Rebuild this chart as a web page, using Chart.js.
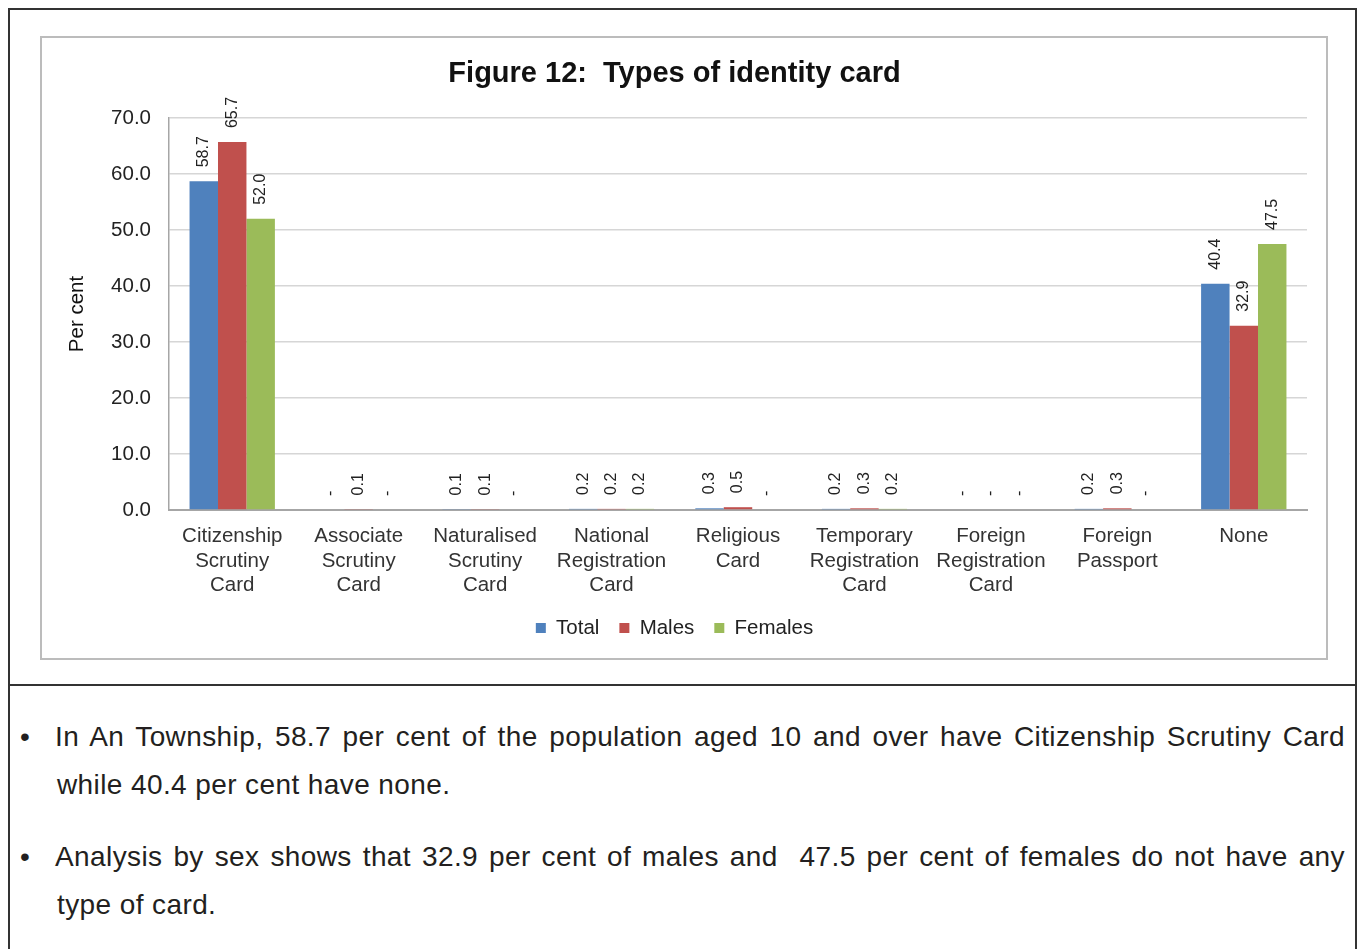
<!DOCTYPE html>
<html>
<head>
<meta charset="utf-8">
<script src="https://cdn.jsdelivr.net/npm/chart.js@4"></script>
<style>
    body { margin: 0; background: #fff; font-family: "Liberation Sans", Arial, sans-serif; }
    #outer { position: absolute; left: 8px; top: 8px; width: 1349px; height: 960px; border: 2px solid #333; box-sizing: border-box; }
    #divider { position: absolute; left: 8px; top: 684px; width: 1349px; height: 2px; background: #333; }
    #chartBox { position: absolute; left: 40px; top: 36px; width: 1288px; height: 624px; border: 2px solid #bcbcbc; box-sizing: border-box; }
    #chartBox canvas { display: block; }
    .bullet { position: absolute; left: 20px; width: 1325px; font-size: 28px; color: #231f20; line-height: 48px; letter-spacing: 0.4px; }
    .bullet .dot { position: absolute; left: 0; top: 0; }
    .bullet .linea { margin-left: 35px; }
    .bullet .llena { text-align: justify; text-align-last: justify; }
    .bullet .resto { margin-left: 37px; }
</style>
</head>
<body>
<div id="outer"></div>
<div id="divider"></div>
<div id="chartBox"><canvas id="diagrama" width="1284" height="620"></canvas></div>
<div class="bullet" style="top: 713px;"><span class="dot">•</span><div class="linea llena">In An Township, 58.7 per cent of the population aged 10 and over have Citizenship Scrutiny Card</div><div class="resto">while 40.4 per cent have none.</div></div>
<div class="bullet" style="top: 833px;"><span class="dot">•</span><div class="linea llena">Analysis by sex shows that 32.9 per cent of males and&nbsp; 47.5 per cent of females do not have any</div><div class="resto">type of card.</div></div>

<script>
const categorias = [
    ['Citizenship', 'Scrutiny', 'Card'],
    ['Associate', 'Scrutiny', 'Card'],
    ['Naturalised', 'Scrutiny', 'Card'],
    ['National', 'Registration', 'Card'],
    ['Religious', 'Card'],
    ['Temporary', 'Registration', 'Card'],
    ['Foreign', 'Registration', 'Card'],
    ['Foreign', 'Passport'],
    ['None']
];
// null = "-" en la tabla original
const total = [58.7, null, 0.1, 0.2, 0.3, 0.2, null, 0.2, 40.4];
const hombres = [65.7, 0.1, 0.1, 0.2, 0.5, 0.3, null, 0.3, 32.9];
const mujeres = [52.0, null, null, 0.2, null, 0.2, null, null, 47.5];
const ticksY = [0, 10, 20, 30, 40, 50, 60, 70];

const fuente = '"Liberation Sans", Arial, sans-serif';

const etiquetasBarras = {
    id: 'etiquetasBarras',
    afterDatasetsDraw(chart) {
        const ctx = chart.ctx;
        const cero = chart.scales.y.getPixelForValue(0);
        ctx.save();
        ctx.font = '16px ' + fuente;
        ctx.fillStyle = '#222';
        ctx.textAlign = 'left';
        ctx.textBaseline = 'middle';
        chart.data.datasets.forEach((ds, i) => {
            chart.getDatasetMeta(i).data.forEach((bar, j) => {
                const v = ds.data[j];
                const texto = v === null ? '-' : v.toFixed(1);
                const tope = v === null ? cero : bar.y;
                ctx.save();
                ctx.translate(bar.x, tope - 14);
                ctx.rotate(-Math.PI / 2);
                ctx.fillText(texto, 0, 0);
                ctx.restore();
            });
        });
        ctx.restore();
    }
};

document.addEventListener('DOMContentLoaded', function() {
    const canva = document.getElementById('diagrama');
    new Chart(canva, {
        type: 'bar',
        data: {
            labels: categorias,
            datasets: [{
                label: 'Total',
                data: total,
                backgroundColor: '#4f81bd'
            },
            {
                label: 'Males',
                data: hombres,
                backgroundColor: '#c0504d'
            },
            {
                label: 'Females',
                data: mujeres,
                backgroundColor: '#9bbb59'
            }]
        },
        options: {
            responsive: false,
            animation: false,
            categoryPercentage: 0.675,
            barPercentage: 1,
            layout: {
                padding: { left: 0, right: 19, top: 0, bottom: 9.75 }
            },
            scales: {
                x: {
                    grid: { display: false },
                    border: { color: '#a6a6a6', width: 2 },
                    ticks: {
                        color: '#333',
                        font: { family: fuente, size: 20.5 },
                        maxRotation: 0,
                        autoSkip: false,
                        padding: 6
                    },
                    afterFit: function(scale) {
                        scale.height = 87.75;
                    }
                },
                y: {
                    min: 0,
                    max: 70,
                    afterBuildTicks: function(scale) {
                        scale.ticks = ticksY.map(v => ({ value: v }));
                    },
                    grid: { color: '#d6d6d6', lineWidth: 1.5, tickLength: 0 },
                    border: { color: '#a6a6a6', width: 1.5 },
                    ticks: {
                        color: '#222',
                        font: { family: fuente, size: 20.5 },
                        padding: 18,
                        callback: v => v.toFixed(1)
                    },
                    title: {
                        display: true,
                        text: 'Per cent',
                        color: '#111',
                        font: { family: fuente, size: 20.5 },
                        padding: { top: 23, bottom: 0 }
                    },
                    afterFit: function(scale) {
                        scale.width = 127;
                    }
                }
            },
            plugins: {
                legend: {
                    position: 'bottom',
                    labels: {
                        color: '#222',
                        font: { family: fuente, size: 20.5 },
                        boxWidth: 10,
                        boxHeight: 10,
                        padding: 20
                    }
                },
                title: {
                    display: true,
                    text: 'Figure 12:  Types of identity card',
                    color: '#111',
                    font: { family: fuente, size: 29, weight: 'bold' },
                    padding: { top: 18.6, bottom: 26.6 }
                },
                tooltip: { enabled: false }
            }
        },
        plugins: [etiquetasBarras]
    });
});
</script>
</body>
</html>
